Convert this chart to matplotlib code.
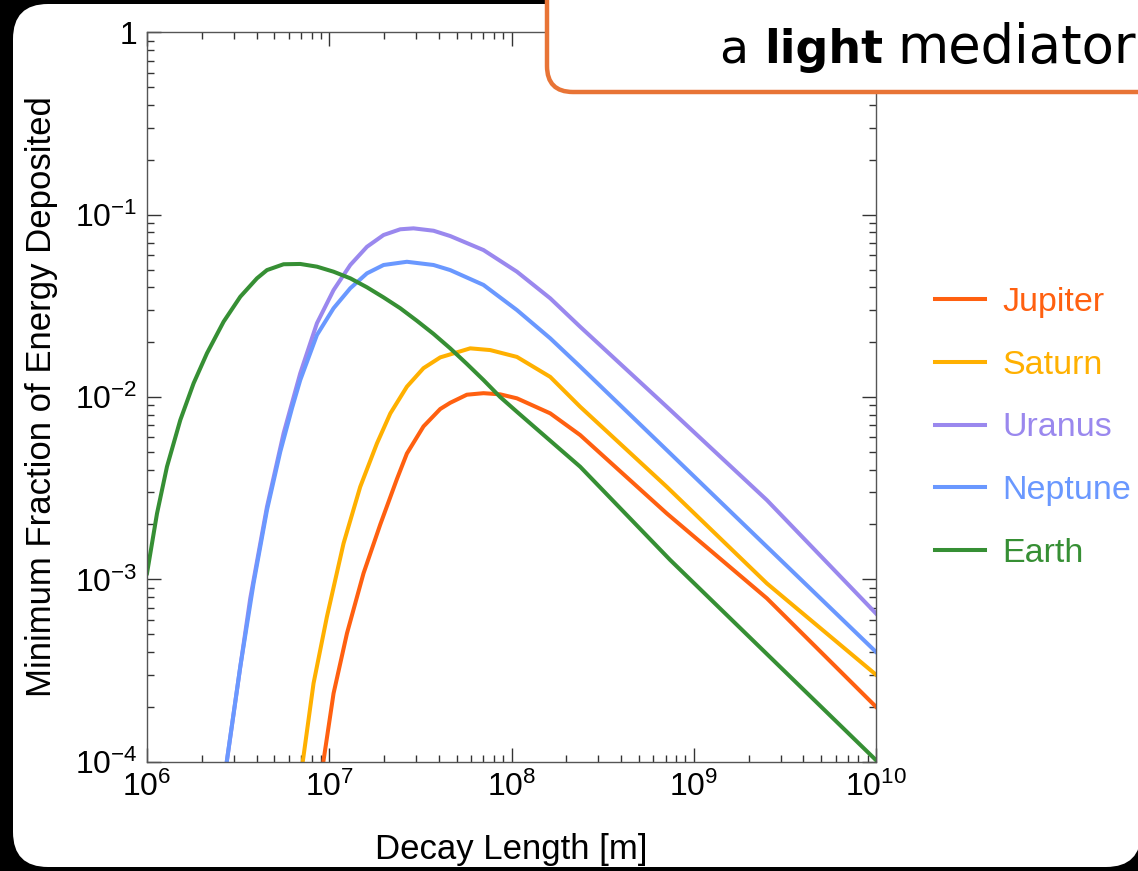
import math
import matplotlib
matplotlib.use("Agg")
import matplotlib.pyplot as plt
from matplotlib.patches import FancyBboxPatch
from matplotlib.ticker import LogLocator, FuncFormatter, NullFormatter

plt.rcParams['font.family'] = ['Liberation Sans', 'DejaVu Sans']
plt.rcParams['mathtext.fontset'] = 'custom'
plt.rcParams['mathtext.rm'] = 'Liberation Sans'
plt.rcParams['mathtext.it'] = 'Liberation Sans:italic'
plt.rcParams['mathtext.bf'] = 'Liberation Sans:bold'

# values (decay length [m], min. fraction deposited)
jupiter_x = [9.31e6, 1.056e7, 1.251e7, 1.542e7, 1.905e7, 2.351e7, 2.667e7, 3.289e7, 4.064e7,
             4.61e7, 5.69e7, 7.02e7, 8.67e7, 1.071e8, 1.631e8, 2.38e8, 7.11e8, 2.52e9, 1e10]
jupiter_y = [1.02e-4, 2.37e-4, 5.06e-4, 1.08e-3, 2.0e-3, 3.55e-3, 4.9e-3, 6.9e-3, 8.6e-3,
             9.3e-3, 1.03e-2, 1.05e-2, 1.035e-2, 9.84e-3, 8.14e-3, 6.19e-3, 2.30e-3, 7.87e-4, 2.0e-4]

saturn_x = [7.175e6, 8.2e6, 9.71e6, 1.198e7, 1.479e7, 1.827e7, 2.163e7, 2.667e7, 3.289e7,
            4.064e7, 5.936e7, 7.64e7, 1.071e8, 1.631e8, 2.38e8, 7.11e8, 2.52e9, 1e10]
saturn_y = [1.02e-4, 2.69e-4, 6.24e-4, 1.575e-3, 3.22e-3, 5.57e-3, 8.13e-3, 1.14e-2, 1.44e-2,
            1.65e-2, 1.85e-2, 1.81e-2, 1.66e-2, 1.29e-2, 8.85e-3, 3.22e-3, 9.5e-4, 3.0e-4]

uranus_x = [2.747e6, 3.25e6, 3.686e6, 4.553e6, 5.615e6, 6.933e6, 8.56e6, 1.056e7, 1.304e7,
            1.61e7, 1.986e7, 2.452e7, 2.9e7, 3.734e7, 4.61e7, 7.02e7, 1.071e8, 1.631e8,
            2.38e8, 7.11e8, 2.52e9, 1e10]
uranus_y = [1.02e-4, 3.32e-4, 7.87e-4, 2.50e-3, 6.32e-3, 1.35e-2, 2.54e-2, 3.86e-2, 5.30e-2,
            6.67e-2, 7.74e-2, 8.32e-2, 8.42e-2, 8.17e-2, 7.64e-2, 6.40e-2, 4.87e-2, 3.48e-2,
            2.43e-2, 8.85e-3, 2.72e-3, 6.5e-4]

neptune_x = [2.747e6, 3.25e6, 3.843e6, 4.553e6, 5.385e6, 6.25e6, 6.933e6, 8.56e6, 1.056e7,
             1.304e7, 1.61e7, 1.986e7, 2.668e7, 3.734e7, 4.61e7, 7.02e7, 1.071e8, 1.631e8,
             2.38e8, 7.11e8, 2.52e9, 1e10]
neptune_y = [1.02e-4, 3.32e-4, 9.51e-4, 2.40e-3, 5.01e-3, 8.71e-3, 1.24e-2, 2.19e-2, 3.07e-2,
             3.95e-2, 4.77e-2, 5.30e-2, 5.52e-2, 5.30e-2, 4.97e-2, 4.12e-2, 3.00e-2, 2.10e-2,
             1.47e-2, 5.12e-3, 1.51e-3, 4.0e-4]

earth_x = [1.0e6, 1.135e6, 1.287e6, 1.523e6, 1.802e6, 2.134e6, 2.632e6, 3.25e6, 4.013e6,
           4.553e6, 5.615e6, 6.933e6, 8.56e6, 1.056e7, 1.304e7, 1.61e7, 1.986e7, 2.452e7,
           3.027e7, 3.734e7, 4.61e7, 5.69e7, 7.02e7, 8.67e7, 1.071e8, 2.38e8, 7.41e8, 1e10]
earth_y = [1.08e-3, 2.30e-3, 4.15e-3, 7.48e-3, 1.19e-2, 1.74e-2, 2.59e-2, 3.55e-2, 4.48e-2,
           4.97e-2, 5.35e-2, 5.37e-2, 5.19e-2, 4.87e-2, 4.48e-2, 4.00e-2, 3.52e-2, 3.07e-2,
           2.62e-2, 2.22e-2, 1.85e-2, 1.52e-2, 1.24e-2, 1.00e-2, 8.30e-3, 4.15e-3, 1.28e-3,
           1.02e-4]

names = ['Jupiter', 'Saturn', 'Uranus', 'Neptune', 'Earth']
colors = ['#ff6010', '#ffb000', '#9a88ee', '#6a98ff', '#368f34']
series = [(jupiter_x, jupiter_y), (saturn_x, saturn_y), (uranus_x, uranus_y),
          (neptune_x, neptune_y), (earth_x, earth_y)]

W, H = 1138, 871
fig = plt.figure(figsize=(W / 100, H / 100), dpi=100, facecolor='black')

# white rounded panel behind everything
bg = fig.add_axes([0, 0, 1, 1], zorder=-5)
bg.set_xlim(0, W)
bg.set_ylim(H, 0)
bg.axis('off')
bg.add_patch(FancyBboxPatch((13, 4), 1128, 863, boxstyle='round,pad=0,rounding_size=35',
                            facecolor='white', edgecolor='none'))

ax = fig.add_axes([147 / W, 1 - 761.7 / H, (876 - 147) / W, (761.7 - 32.4) / H])
ax.set_facecolor('white')
for (x, y), c, n in zip(series, colors, names):
    ax.plot(x, y, color=c, lw=2.9, label=n, solid_joinstyle='round')

ax.set_xscale('log')
ax.set_yscale('log')
ax.set_xlim(1e6, 1e10)
ax.set_ylim(1e-4, 1)


def fmt(v, pos):
    e = int(round(math.log10(v)))
    if e == 0:
        return '1'
    return r'$\mathregular{10^{%d}}$' % e


ax.xaxis.set_major_locator(LogLocator(base=10, numticks=20))
ax.yaxis.set_major_locator(LogLocator(base=10, numticks=20))
ax.xaxis.set_minor_locator(LogLocator(base=10, subs=range(2, 10), numticks=20))
ax.yaxis.set_minor_locator(LogLocator(base=10, subs=range(2, 10), numticks=20))
ax.xaxis.set_major_formatter(FuncFormatter(fmt))
ax.yaxis.set_major_formatter(FuncFormatter(fmt))
ax.xaxis.set_minor_formatter(NullFormatter())
ax.yaxis.set_minor_formatter(NullFormatter())
ax.tick_params(which='both', direction='in', top=True, right=True, color='#333333',
               width=1.0, labelsize=23, labelcolor='black')
ax.tick_params(which='major', length=10, pad=7)
ax.tick_params(which='minor', length=5)
for s in ax.spines.values():
    s.set_color('#555555')
    s.set_linewidth(1.0)

ax.set_xlabel('Decay Length [m]', fontsize=25, labelpad=22)
ax.set_ylabel('Minimum Fraction of Energy Deposited', fontsize=25, labelpad=12)

fig.legend(*ax.get_legend_handles_labels(), loc='center left',
           bbox_to_anchor=(935 / W, 1 - 428 / H), frameon=False, fontsize=24.5,
           handlelength=1.47, handletextpad=0.5, labelspacing=0.93, borderpad=0,
           borderaxespad=0, labelcolor='linecolor')

# orange title box, cut off at the top right
ov = fig.add_axes([0, 0, 1, 1], zorder=10)
ov.set_xlim(0, W)
ov.set_ylim(H, 0)
ov.axis('off')
ov.patch.set_alpha(0)
ov.add_patch(FancyBboxPatch((547, -60), 700, 152, boxstyle='round,pad=0,rounding_size=26',
                            facecolor='white', edgecolor='#e87436', lw=3.2))
tf = ['DejaVu Sans']
ov.text(719, 63, 'a', fontsize=34, family=tf, va='baseline', ha='left')
ov.text(764, 63, 'light', fontsize=33, family=tf, fontweight='bold', va='baseline', ha='left')
ov.text(897, 63, 'mediator', fontsize=38, family=tf, va='baseline', ha='left')

fig.savefig('out.png', dpi=100, facecolor='black')
